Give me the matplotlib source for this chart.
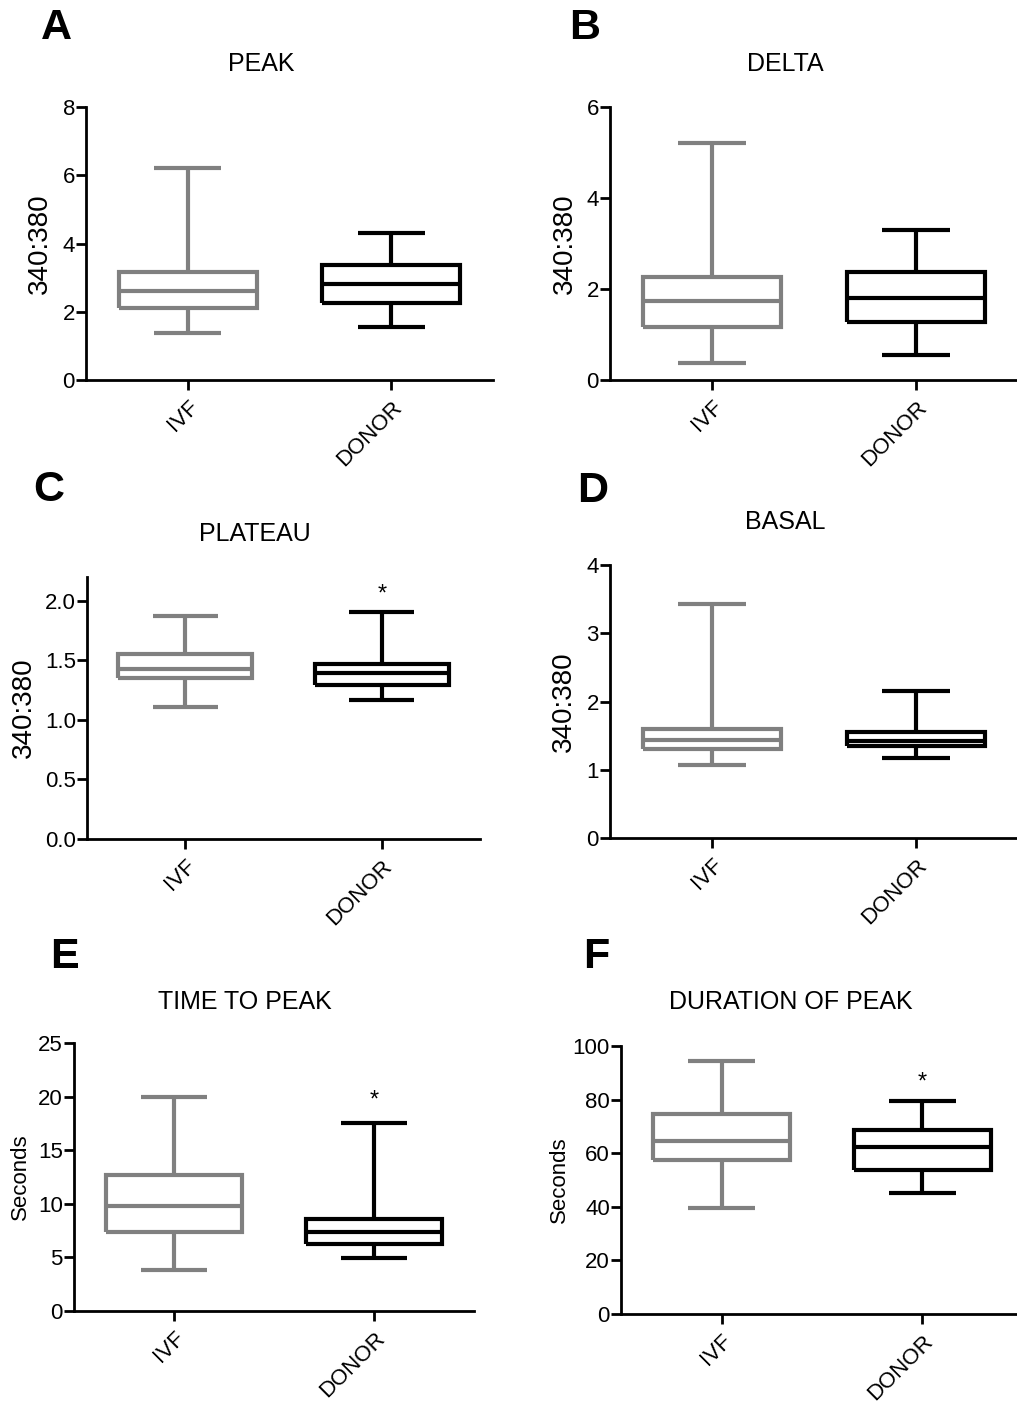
import matplotlib
matplotlib.use('Agg')
import matplotlib.pyplot as plt

plt.rcParams['font.family'] = ['Liberation Sans', 'DejaVu Sans']

# Box stats per panel: [whisker low, Q1, median, Q3, whisker high]
groups = ["IVF", "DONOR"]

ivf_peak = [1.38, 2.10, 2.62, 3.16, 6.20]
donor_peak = [1.54, 2.27, 2.80, 3.37, 4.30]

ivf_delta = [0.37, 1.17, 1.74, 2.27, 5.20]
donor_delta = [0.55, 1.28, 1.80, 2.38, 3.30]

ivf_plateau = [1.11, 1.35, 1.43, 1.55, 1.87]
donor_plateau = [1.17, 1.29, 1.39, 1.47, 1.91]

ivf_basal = [1.07, 1.30, 1.44, 1.59, 3.43]
donor_basal = [1.17, 1.35, 1.42, 1.55, 2.16]

ivf_ttp = [3.8, 7.38, 9.79, 12.7, 20.0]
donor_ttp = [4.99, 6.23, 7.38, 8.57, 17.57]

ivf_dur = [39.4, 57.5, 64.5, 74.7, 94.5]
donor_dur = [45.3, 53.8, 62.2, 68.7, 79.4]

W, H = 1017, 1403
fig = plt.figure(figsize=(W / 100, H / 100), dpi=100)
fig.patch.set_facecolor('white')

GRAY = '#808080'
BLACK = '#000000'


def make_axes(left, top, right, bottom):
    return fig.add_axes([left / W, 1 - bottom / H, (right - left) / W, (bottom - top) / H])


def to_stats(vals):
    lo, q1, med, q3, hi = vals
    return dict(whislo=lo, q1=q1, med=med, q3=q3, whishi=hi)


def panel(box, ivf, donor, ylim, yticks, yticklabels, ylabel, ylab_x, ylab_size,
          title, title_xy, letter, letter_xy, star=None):
    left, top, right, bottom = box
    ax = make_axes(left, top, right, bottom)
    res = ax.bxp([to_stats(ivf), to_stats(donor)], positions=[1, 2], widths=0.68,
                 capwidths=0.33, showfliers=False)
    cols = [GRAY, BLACK]
    for i, c in enumerate(cols):
        for art in [res['boxes'][i], res['medians'][i],
                    res['whiskers'][2 * i], res['whiskers'][2 * i + 1],
                    res['caps'][2 * i], res['caps'][2 * i + 1]]:
            art.set_color(c)
            art.set_linewidth(3.0)
            art.set_solid_joinstyle('miter')
            art.set_solid_capstyle('butt')

    ax.set_xlim(0.5, 2.5)
    ax.set_ylim(*ylim)
    ax.set_yticks(yticks)
    ax.set_yticklabels(yticklabels, fontsize=16)
    ax.set_xticks([1, 2])
    ax.set_xticklabels(groups, fontsize=16, rotation=45, ha='right', va='top',
                       rotation_mode='anchor')
    for s in ['top', 'right']:
        ax.spines[s].set_visible(False)
    for s in ['left', 'bottom']:
        ax.spines[s].set_linewidth(2)
    ax.tick_params(axis='both', width=2, length=7, color='black')
    ax.tick_params(axis='y', pad=1)
    ax.tick_params(axis='x', pad=5)

    ax.set_ylabel(ylabel, fontsize=ylab_size)
    ax.yaxis.set_label_coords((ylab_x - left) / (right - left), 0.5)
    ax.yaxis.label.set_verticalalignment('center')

    fig.text(title_xy[0] / W, 1 - title_xy[1] / H, title, fontsize=18,
             ha='center', va='center')
    fig.text(letter_xy[0] / W, 1 - letter_xy[1] / H, letter, fontsize=31,
             fontweight='bold', ha='center', va='center')
    if star is not None:
        ax.text(2, star, '*', fontsize=17, ha='center', va='center')
    return ax


panel((86, 107, 493, 380), ivf_peak, donor_peak, (0, 8), [0, 2, 4, 6, 8],
      ['0', '2', '4', '6', '8'], '340:380', 40, 20,
      'PEAK', (261, 64), 'A', (56, 28))

panel((610, 107, 1018, 380), ivf_delta, donor_delta, (0, 6), [0, 2, 4, 6],
      ['0', '2', '4', '6'], '340:380', 565, 20,
      'DELTA', (785, 64), 'B', (585, 28))

panel((87, 577, 480, 839), ivf_plateau, donor_plateau, (0, 2.2),
      [0, 0.5, 1.0, 1.5, 2.0], ['0.0', '0.5', '1.0', '1.5', '2.0'], '340:380', 24, 20,
      'PLATEAU', (255, 534), 'C', (49, 490), star=2.05)

panel((610, 565, 1018, 838), ivf_basal, donor_basal, (0, 4), [0, 1, 2, 3, 4],
      ['0', '1', '2', '3', '4'], '340:380', 564, 20,
      'BASAL', (785, 522), 'D', (593, 491), )

panel((74, 1043, 474, 1311), ivf_ttp, donor_ttp, (0, 25), [0, 5, 10, 15, 20, 25],
      ['0', '5', '10', '15', '20', '25'], 'Seconds', 20, 16,
      'TIME TO PEAK', (245, 1002), 'E', (64, 957), star=19.6)

panel((621, 1046, 1023, 1314), ivf_dur, donor_dur, (0, 100), [0, 20, 40, 60, 80, 100],
      ['0', '20', '40', '60', '80', '100'], 'Seconds', 559, 16,
      'DURATION OF PEAK', (791, 1002), 'F', (596, 957), star=86.5)

fig.savefig('out.png', dpi=100)
